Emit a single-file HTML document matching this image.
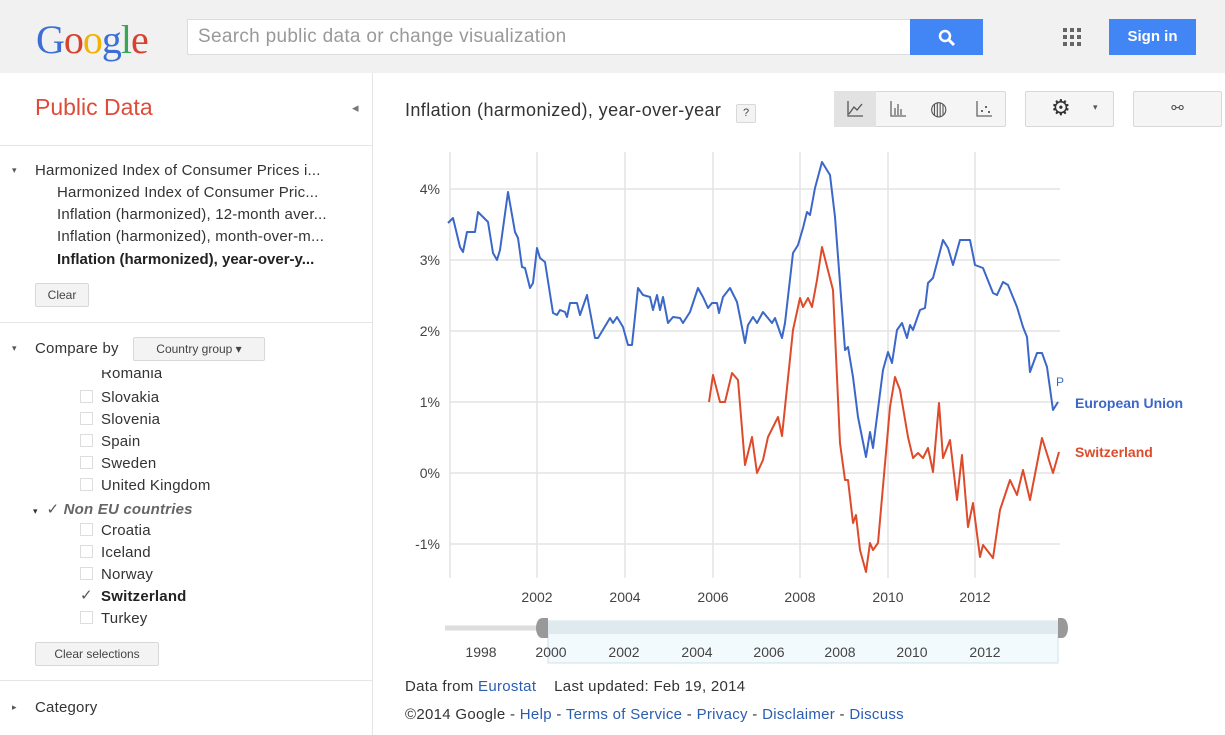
<!DOCTYPE html>
<html><head><meta charset="utf-8"><style>
body{margin:0;width:1225px;height:735px;background:#fff;font-family:"Liberation Sans",Arial,sans-serif;position:relative;overflow:hidden;color:#222}
.a{position:absolute;white-space:nowrap}
.btn{position:absolute;background:#f3f3f3;border:1px solid #d8d8d8;border-radius:2px;font-size:12px;color:#444;text-align:center}
.sb{font-size:15px;color:#333;letter-spacing:0.2px}
.cb{position:absolute;width:11px;height:11px;border:1px solid #ddd;background:#fff}
a{color:#2a5db0;text-decoration:none}
</style></head><body>
<div class="a" style="left:0;top:0;width:1225px;height:73px;background:#f1f1f1"></div>
<div class="a" style="left:36px;top:16px;font-size:40px;font-family:'Liberation Serif',serif;letter-spacing:-1px"><span style="color:#3b6fd6">G</span><span style="color:#d9412f">o</span><span style="color:#f0b400">o</span><span style="color:#3b6fd6">g</span><span style="color:#3aa655">l</span><span style="color:#d9412f">e</span></div>
<div class="a" style="left:187px;top:19px;width:722px;height:34px;background:#fff;border:1px solid #dcdcdc"></div>
<div class="a" style="left:198px;top:26px;font-size:19px;color:#999;letter-spacing:0.3px">Search public data or change visualization</div>
<div class="a" style="left:910px;top:19px;width:73px;height:36px;background:#4285f4"></div>
<svg class="a" style="left:937px;top:28px" width="20" height="20"><circle cx="8" cy="8" r="5" stroke="#fff" stroke-width="2.5" fill="none"/><line x1="12" y1="12" x2="17" y2="17" stroke="#fff" stroke-width="3"/></svg>
<svg class="a" style="left:1062px;top:27px" width="22" height="22"><g fill="#666"><rect x="1" y="1" width="4" height="4"/><rect x="8" y="1" width="4" height="4"/><rect x="15" y="1" width="4" height="4"/><rect x="1" y="8" width="4" height="4"/><rect x="8" y="8" width="4" height="4"/><rect x="15" y="8" width="4" height="4"/><rect x="1" y="15" width="4" height="4"/><rect x="8" y="15" width="4" height="4"/><rect x="15" y="15" width="4" height="4"/></g></svg>
<div class="a" style="left:1109px;top:19px;width:87px;height:36px;background:#4285f4;color:#fff;font-weight:bold;font-size:15px;line-height:36px;text-align:center">Sign in</div>

<div class="a" style="left:372px;top:73px;width:1px;height:662px;background:#e5e5e5"></div>
<div class="a" style="left:35px;top:94px;font-size:23px;color:#dd4b39">Public Data</div>
<div class="a" style="left:352px;top:100px;font-size:13px;color:#777">◂</div>
<div class="a" style="left:0;top:145px;width:372px;height:1px;background:#e5e5e5"></div>
<div class="a" style="left:12px;top:165px;font-size:9px;color:#555">▾</div>
<div class="a sb" style="left:35px;top:162px">Harmonized Index of Consumer Prices i...</div>
<div class="a sb" style="left:57px;top:184px">Harmonized Index of Consumer Pric...</div>
<div class="a sb" style="left:57px;top:206px">Inflation (harmonized), 12-month aver...</div>
<div class="a sb" style="left:57px;top:228px">Inflation (harmonized), month-over-m...</div>
<div class="a sb" style="left:57px;top:251px;font-weight:bold;color:#222;letter-spacing:0">Inflation (harmonized), year-over-y...</div>
<div class="btn" style="left:35px;top:283px;width:52px;height:22px;line-height:22px">Clear</div>
<div class="a" style="left:0;top:322px;width:372px;height:1px;background:#e5e5e5"></div>
<div class="a" style="left:12px;top:343px;font-size:9px;color:#555">▾</div>
<div class="a sb" style="left:35px;top:340px">Compare by</div>
<div class="btn" style="left:133px;top:337px;width:130px;height:22px;line-height:22px">Country group ▾</div>
<div class="a sb" style="left:101px;top:370px;height:14px;overflow:hidden;line-height:8px">Romania</div>
<div class="cb" style="left:80px;top:390px"></div><div class="a sb" style="left:101px;top:389px">Slovakia</div>
<div class="cb" style="left:80px;top:412px"></div><div class="a sb" style="left:101px;top:411px">Slovenia</div>
<div class="cb" style="left:80px;top:434px"></div><div class="a sb" style="left:101px;top:433px">Spain</div>
<div class="cb" style="left:80px;top:456px"></div><div class="a sb" style="left:101px;top:455px">Sweden</div>
<div class="cb" style="left:80px;top:478px"></div><div class="a sb" style="left:101px;top:477px">United Kingdom</div>
<div class="a sb" style="left:33px;top:500px"><span style="font-size:9px">▾</span> &nbsp;<span style="color:#555">✓</span> <i style="font-weight:bold;color:#666">Non EU countries</i></div>
<div class="cb" style="left:80px;top:523px"></div><div class="a sb" style="left:101px;top:522px">Croatia</div>
<div class="cb" style="left:80px;top:545px"></div><div class="a sb" style="left:101px;top:544px">Iceland</div>
<div class="cb" style="left:80px;top:567px"></div><div class="a sb" style="left:101px;top:566px">Norway</div>
<div class="a sb" style="left:80px;top:586px;color:#555">✓</div><div class="a sb" style="left:101px;top:588px;font-weight:bold;color:#222">Switzerland</div>
<div class="cb" style="left:80px;top:611px"></div><div class="a sb" style="left:101px;top:610px">Turkey</div>
<div class="btn" style="left:35px;top:642px;width:122px;height:22px;line-height:22px">Clear selections</div>
<div class="a" style="left:0;top:680px;width:372px;height:1px;background:#e5e5e5"></div>
<div class="a" style="left:12px;top:702px;font-size:9px;color:#555">▸</div>
<div class="a sb" style="left:35px;top:699px">Category</div>

<div class="a" style="left:405px;top:100px;font-size:18px;color:#333;letter-spacing:0.4px">Inflation (harmonized), year-over-year</div>
<div class="btn" style="left:736px;top:104px;width:18px;height:17px;font-size:11px;line-height:17px">?</div>
<div class="btn" style="left:834px;top:91px;width:170px;height:34px;background:#f5f5f5"></div>
<div class="a" style="left:834px;top:91px;width:42px;height:36px;background:#e2e2e2"></div>
<svg class="a" style="left:846px;top:100px" width="18" height="18"><path d="M2,1 V16 H17 M3,14 L8,7 L11,10 L16,4" stroke="#555" fill="none" stroke-width="1.3"/></svg>
<svg class="a" style="left:889px;top:100px" width="18" height="18"><path d="M2,1 V16 H17 M6,15 V8 M9,15 V4 M12,15 V9" stroke="#666" fill="none" stroke-width="1.3"/></svg>
<div class="a" style="left:930px;top:96px;font-size:20px;color:#555">◍</div>
<svg class="a" style="left:975px;top:100px" width="18" height="18"><path d="M2,1 V16 H17" stroke="#666" fill="none" stroke-width="1.3"/><g fill="#666"><rect x="6" y="10" width="2" height="2"/><rect x="10" y="6" width="2" height="2"/><rect x="13" y="11" width="2" height="2"/></g></svg>
<div class="btn" style="left:1025px;top:91px;width:87px;height:34px;background:#f5f5f5"></div>
<div class="a" style="left:1051px;top:95px;font-size:22px;color:#333">⚙</div>
<div class="a" style="left:1093px;top:102px;font-size:9px;color:#555">▾</div>
<div class="btn" style="left:1133px;top:91px;width:87px;height:34px;background:#f5f5f5;font-size:15px;line-height:34px;color:#555">⚯</div>

<svg class="a" style="left:0;top:0" width="1225" height="735">
<g stroke="#e3e3e3" stroke-width="1.5">
<line x1="450" y1="189" x2="1060" y2="189"/><line x1="450" y1="260" x2="1060" y2="260"/><line x1="450" y1="331" x2="1060" y2="331"/><line x1="450" y1="402" x2="1060" y2="402"/><line x1="450" y1="473" x2="1060" y2="473"/><line x1="450" y1="544" x2="1060" y2="544"/>
<line x1="450" y1="152" x2="450" y2="578"/><line x1="537" y1="152" x2="537" y2="578"/><line x1="625" y1="152" x2="625" y2="578"/><line x1="713" y1="152" x2="713" y2="578"/><line x1="800" y1="152" x2="800" y2="578"/><line x1="888" y1="152" x2="888" y2="578"/><line x1="975" y1="152" x2="975" y2="578"/>
</g>
<g font-size="14" fill="#444" text-anchor="end" font-family="Liberation Sans"><text x="440" y="194">4%</text><text x="440" y="265">3%</text><text x="440" y="336">2%</text><text x="440" y="407">1%</text><text x="440" y="478">0%</text><text x="440" y="549">-1%</text></g>
<g font-size="14" fill="#444" text-anchor="middle" font-family="Liberation Sans"><text x="537" y="602">2002</text><text x="625" y="602">2004</text><text x="713" y="602">2006</text><text x="800" y="602">2008</text><text x="888" y="602">2010</text><text x="975" y="602">2012</text></g>
<polyline fill="none" stroke="#3b67c9" stroke-width="2" stroke-linejoin="round" points="448,223 453,218 460,247 463,252 467,232 475,232 478,212 483,217 488,222 493,253 497,260 500,250 508,192 515,232 518,238 522,267 525,268 530,288 533,283 537,248 540,258 545,262 553,313 557,315 560,310 565,312 567,317 570,303 577,303 580,315 587,295 595,338 598,338 607,323 610,318 613,323 617,317 623,327 628,345 632,345 638,288 643,295 650,297 653,310 657,295 660,310 663,297 668,323 673,317 680,318 683,323 690,312 698,288 703,297 708,308 712,303 717,303 719,313 723,297 730,288 737,302 740,317 745,343 748,325 753,317 757,323 763,312 772,323 775,318 782,338 785,323 793,253 798,245 803,228 807,212 810,215 815,188 822,162 830,175 835,217 840,283 845,350 848,347 853,377 858,417 866,457 870,432 873,448 883,370 888,352 892,363 897,330 902,323 907,338 910,325 913,330 920,310 925,308 928,283 933,278 943,240 948,248 953,265 960,240 970,240 975,265 983,268 993,293 997,295 1003,282 1008,285 1017,307 1023,327 1027,337 1030,372 1037,353 1042,353 1047,367 1053,410 1058,402"/>
<polyline fill="none" stroke="#dd4b2b" stroke-width="2" stroke-linejoin="round" points="709,402 713,375 720,402 725,402 732,373 738,380 745,465 752,437 757,473 763,460 768,437 778,417 782,436 793,330 800,298 803,307 808,298 812,307 817,280 822,247 833,290 840,443 845,480 848,480 853,523 856,515 860,550 866,572 870,543 873,550 878,543 890,407 895,377 900,390 908,437 913,458 918,453 923,458 928,448 933,472 939,403 943,458 950,440 957,500 962,455 968,527 973,503 980,557 983,545 993,558 1000,510 1010,480 1017,495 1023,470 1030,500 1042,438 1053,473 1059,452"/>
<text x="1056" y="386" font-size="12" fill="#3b67c9" font-family="Liberation Sans">P</text>
<text x="1075" y="408" font-size="14" fill="#3b67c9" font-weight="bold" font-family="Liberation Sans">European Union</text>
<text x="1075" y="457" font-size="14" fill="#dd4b2b" font-weight="bold" font-family="Liberation Sans">Switzerland</text>
<line x1="445" y1="628" x2="548" y2="628" stroke="#ddd" stroke-width="5"/>
<rect x="548" y="621" width="510" height="42" fill="#f3fafd" stroke="#cfe0e8"/>
<rect x="548" y="622" width="510" height="12" fill="#dfeaee"/>
<path d="M548,618 h-6 a6,10 0 0 0 0,20 h6z" fill="#999"/>
<path d="M1058,618 h4 a6,10 0 0 1 0,20 h-4z" fill="#999"/>
<g font-size="14" fill="#444" text-anchor="middle" font-family="Liberation Sans"><text x="481" y="657">1998</text><text x="551" y="657">2000</text><text x="624" y="657">2002</text><text x="697" y="657">2004</text><text x="769" y="657">2006</text><text x="840" y="657">2008</text><text x="912" y="657">2010</text><text x="985" y="657">2012</text></g>
</svg>
<div class="a" style="left:405px;top:678px;font-size:15px;color:#333;letter-spacing:0.3px">Data from <a>Eurostat</a> &nbsp;&nbsp; Last updated: Feb 19, 2014</div>
<div class="a" style="left:405px;top:706px;font-size:15px;color:#333;letter-spacing:0.3px">©2014 Google - <a>Help</a> - <a>Terms of Service</a> - <a>Privacy</a> - <a>Disclaimer</a> - <a>Discuss</a></div>
</body></html>
